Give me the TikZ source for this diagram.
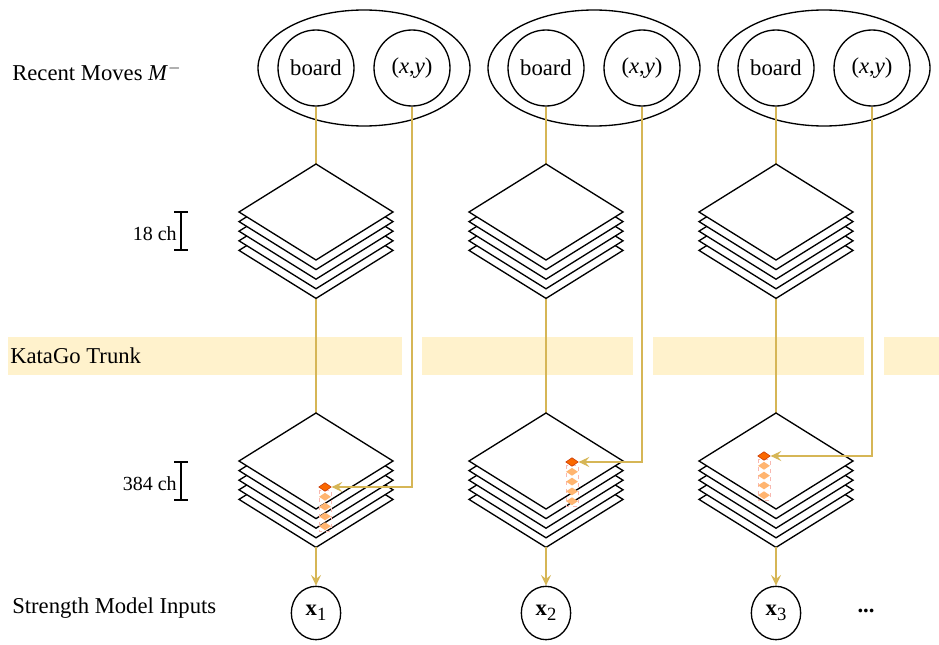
\documentclass[tikz,border=0pt]{standalone}
\usepackage{fontspec}
\setmainfont{Liberation Serif}
\usetikzlibrary{arrows.meta,shapes.geometric}
\definecolor{gold}{HTML}{D6B656}
\definecolor{trunk}{HTML}{FFF2CC}
\definecolor{hot}{HTML}{FA6800}
\definecolor{hotline}{HTML}{C73500}
\definecolor{cool}{HTML}{FFB570}
\definecolor{coolline}{HTML}{F8B8B0}

% a stack of feature planes: name, x, top y
\newcommand\chstack[3]{%
  \foreach \k in {4,3,2,1,0}
    \draw[layer, shift={(0,9.6*\k)}] (#2,#3) -- ++(77,48) -- ++(-77,48) -- ++(-77,-48) -- cycle;
  \coordinate (#1-top) at (#2,#3);
  \coordinate (#1-bot) at (#2,#3+134.4);
}

\begin{document}
\begin{tikzpicture}[x=0.75pt, y=-0.75pt,
    font=\fontsize{17}{20}\selectfont,
    every node/.style={inner sep=0pt},
    flow/.style={draw=gold, line width=1pt},
    flowarr/.style={flow, -{Stealth[length=8pt,width=7.5pt,inset=3pt]}},
    group/.style={draw, ellipse, line width=1pt, minimum width=159pt, minimum height=87pt},
    feat/.style={draw, circle, line width=1pt, minimum size=57pt},
    inp/.style={draw, ellipse, line width=1pt, minimum width=37pt, minimum height=40pt},
    layer/.style={draw, fill=white, line width=1pt, line join=miter},
    hotcell/.style={draw=hotline, fill=hot, diamond, line width=0.4pt, minimum width=9.5pt, minimum height=6.5pt},
    coolcell/.style={fill=cool, diamond, minimum width=9pt, minimum height=6pt},
    chlabel/.style={font=\fontsize{15}{18}\selectfont, anchor=east}]
  \useasboundingbox (0,0) rectangle (939,645);

  % trunk band
  \fill[trunk] (8,337) rectangle (402,375);
  \fill[trunk] (422,337) rectangle (633,375);
  \fill[trunk] (653,337) rectangle (864,375);
  \fill[trunk] (884,337) rectangle (939,375);

  \node[anchor=west] (moves) at (12,72) {Recent Moves \textit{M}$^{-}$};
  \node[anchor=west] (trunk) at (10,356) {KataGo Trunk};
  \node[anchor=west] (inputs) at (12,608) {Strength Model Inputs};

  % channel brackets
  \draw[line width=1pt] (174,212) -- (188,212) (181,212) -- (181,250) (174,250) -- (188,250);
  \node[chlabel] (ch18) at (177,234) {18 ch};
  \draw[line width=1pt] (174,462) -- (188,462) (181,462) -- (181,500) (174,500) -- (188,500);
  \node[chlabel] (ch384) at (177,484) {384 ch};

  \foreach \i/\cx/\mx/\my in {1/316/325/487, 2/546/572/462, 3/776/764/456} {
    \node[group] (g\i) at (\cx+48,68) {};
    \node[feat] (bd\i) at (\cx,68) {board};
    \node[feat] (xy\i) at (\cx+96,68) {(\textit{x},\textit{y})};
    \node[inp] (in\i) at (\cx,613) {\textbf{x}\raisebox{-0.45ex}{\fontsize{14}{16}\selectfont\i}};

    \draw[flow] (bd\i.south) -- (\cx,164);
    \draw[flow] (\cx,298) -- (\cx,413);
    \chstack{s\i}{\cx}{164}
    \chstack{t\i}{\cx}{413}

    % picked move across the planes
    \draw[coolline, dashed, line width=0.4pt] (\mx-6,\my+3) rectangle (\mx+6,\my+44);
    \foreach \j in {1,...,4}
      \node[coolcell] (c\i\j) at (\mx,\my+9.8*\j) {};
    \node[hotcell] (m\i) at (\mx,\my) {};

    \draw[flowarr] (xy\i.south) |- (m\i.east);
    \draw[flowarr] (t\i-bot) -- (in\i.north);
  }

  \node (more) at (866,611) {\textbf{...}};
\end{tikzpicture}
\end{document}
